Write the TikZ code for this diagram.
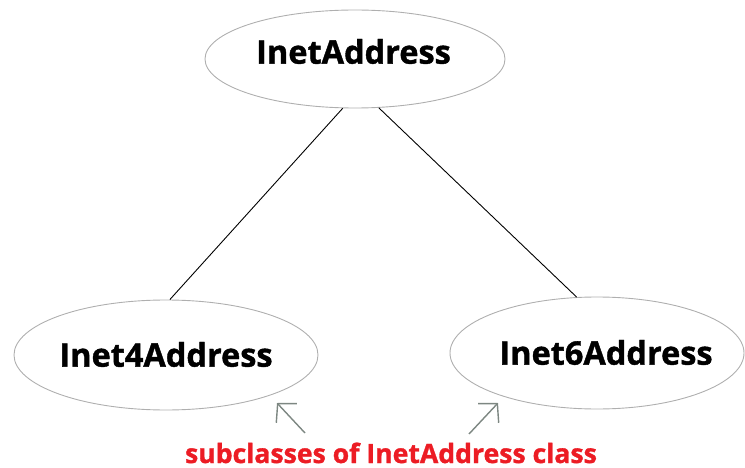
\documentclass[tikz,border=0pt]{standalone}
\usepackage{fontspec}
\setmainfont{Open Sans}[BoldFeatures={FakeBold=1.2}]
\usetikzlibrary{shapes.geometric,arrows.meta}
\definecolor{capred}{RGB}{236,28,36}
\definecolor{rimgray}{RGB}{175,175,175}
\definecolor{pointergray}{RGB}{125,135,130}
\tikzset{
  classnode/.style={ellipse, draw=rimgray, line width=0.9pt, inner sep=0pt},
  classname/.style={inner sep=0pt, font=\fontsize{32.5}{38}\selectfont\bfseries, text=black},
  link/.style={draw=black, line width=0.9pt},
  pointer/.style={draw=pointergray, line width=1.4pt,
    -{Straight Barb[length=13pt,width=28pt,line width=1.4pt]}},
  caption/.style={font=\fontsize{26.6}{31}\selectfont\bfseries, text=capred, inner sep=0pt}
}
\begin{document}
\begin{tikzpicture}[x=1pt,y=-1pt]
  \useasboundingbox (0,0) rectangle (745,468);
  % class hierarchy: outlines, then names
  \node[classnode, minimum width=300pt, minimum height=98pt] (base) at (355,59) {};
  \node[classnode, minimum width=304pt, minimum height=110pt] (v4) at (166,355) {};
  \node[classnode, minimum width=294pt, minimum height=112pt] (v6) at (597,353) {};
  \node[classname] (basename) at (353.5,51.5) {InetAddress};
  \node[classname] (v4name) at (166,354.5) {Inet4Address};
  \node[classname] (v6name) at (606,352.5) {Inet6Address};
  \draw[link] (base.-104) -- (v4.86);
  \draw[link] (base.-64) -- (v6.110);
  % note under the subclasses
  \node[caption, anchor=base] (note) at (391,463) {subclasses of InetAddress class};
  \coordinate (tip4) at (277,403);
  \coordinate (tip6) at (498,403);
  \coordinate (tail4) at (305,433);
  \coordinate (tail6) at (469,434);
  \draw[pointer] (tail4) -- (tip4);
  \draw[pointer] (tail6) -- (tip6);
\end{tikzpicture}
\end{document}
